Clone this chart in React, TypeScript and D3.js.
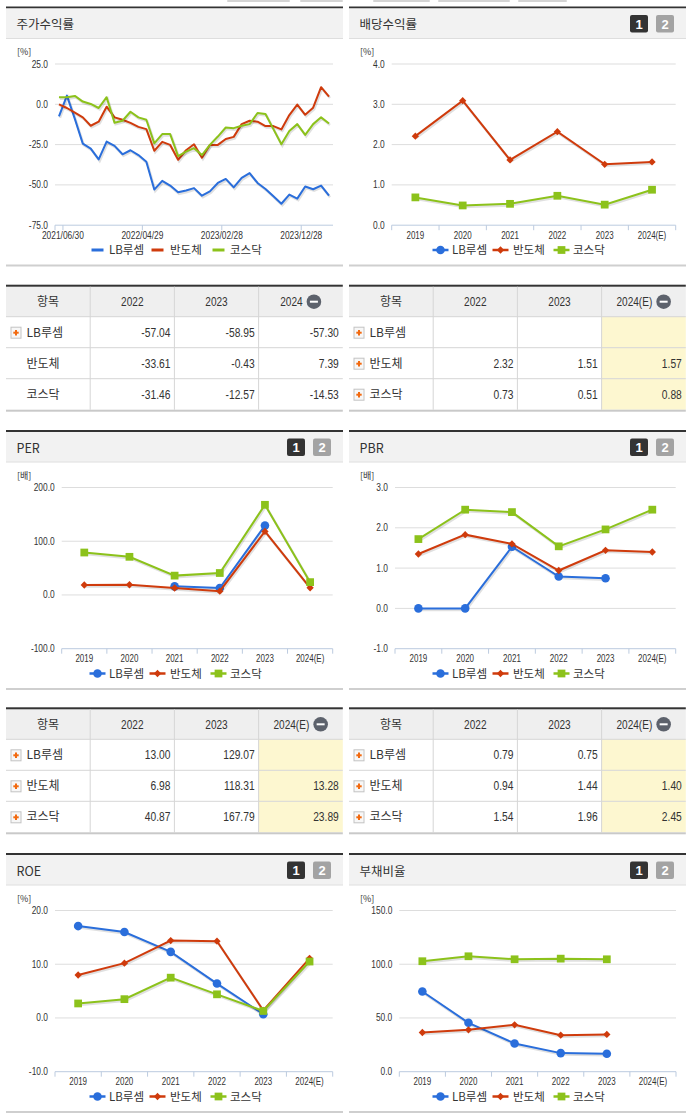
import React from 'react';
import * as d3 from 'd3';

const KFONT = '"Noto Sans CJK KR", "Noto Sans", sans-serif';
const NFONT = '"Liberation Sans", Arial, sans-serif';

const SERIES = ['LB루셈', '반도체', '코스닥'];
const COLORS = ['#2a6edb', '#cf3b0c', '#8cc21b'];
const YEARS = ['2019', '2020', '2021', '2022', '2023', '2024(E)'];

// 주가수익률 (monthly, 35 points)
const STOCK_LB = [-7.5, 5.4, -9, -24.4, -27.5, -34.2, -23.1, -25.8, -31.0, -28.5, -31.5, -35.6, -52.9, -47.5, -50.4, -54.6, -53.5, -52.0, -56.7, -54.0, -48.8, -46.3, -51.5, -45.6, -42.7, -48.8, -52.5, -57.1, -61.7, -56.0, -58.5, -51.0, -52.7, -50.4, -56.7];
const STOCK_SEMI = [0, -2.3, -5.2, -8.1, -13.3, -10.8, -1.5, -8.1, -9.6, -11.5, -14.0, -15.4, -28.8, -23.3, -25.2, -34.4, -28.5, -24.8, -33.1, -25.2, -25.2, -21.5, -20.2, -12.3, -10.2, -10.8, -13.5, -13.5, -15.6, -6.7, -0.2, -6.5, -2.1, 10.6, 4.8];
const STOCK_KOSDAQ = [4.4, 4.4, 5.2, 1.7, 0.2, -2.3, 4.4, -11.5, -10.2, -4.6, -8.1, -9.6, -24.2, -18.5, -18.5, -32.1, -29.4, -27.2, -31.5, -25.2, -20.0, -14.4, -14.8, -13.3, -12.3, -5.4, -6.0, -15.4, -24.8, -16.5, -12.3, -19.0, -12.3, -8.1, -11.9];
const STOCK_TICK_LABELS = ['2021/06/30', '2022/04/29', '2023/02/28', '2023/12/28'];
const STOCK_TICK_INDEX = [0, 10, 20, 30];
const STOCK_Y_TICKS = [-75, -50, -25, 0, 25];

// 배당수익률
const DIV_LB: (number | null)[] = [null, null, null, null, null, null];
const DIV_SEMI = [2.21, 3.09, 1.62, 2.32, 1.51, 1.57];
const DIV_KOSDAQ = [0.69, 0.49, 0.53, 0.73, 0.51, 0.88];
const DIV_TICKS = [0, 1, 2, 3, 4];

// PER
const PER_LB: (number | null)[] = [null, null, 16, 13.0, 129.07, null];
const PER_SEMI = [18.5, 19, 13, 6.98, 118.31, 13.28];
const PER_KOSDAQ = [79, 71, 36, 40.87, 167.79, 23.89];
const PER_TICKS = [-100, 0, 100, 200];

// PBR
const PBR_LB: (number | null)[] = [0, 0, 1.53, 0.79, 0.75, null];
const PBR_SEMI = [1.35, 1.83, 1.6, 0.94, 1.44, 1.4];
const PBR_KOSDAQ = [1.72, 2.45, 2.39, 1.54, 1.96, 2.45];
const PBR_TICKS = [-1, 0, 1, 2, 3];

// ROE
const ROE_LB: (number | null)[] = [17.1, 16.0, 12.3, 6.4, 0.7, null];
const ROE_SEMI = [8.0, 10.2, 14.4, 14.3, 1.4, 11.1];
const ROE_KOSDAQ = [2.7, 3.5, 7.5, 4.4, 1.3, 10.5];
const ROE_TICKS = [-10, 0, 10, 20];

// 부채비율
const DEBT_LB: (number | null)[] = [74.6, 45.5, 26.3, 17.3, 16.7, null];
const DEBT_SEMI: (number | null)[] = [36.5, 39.0, 43.6, 34.0, 34.7, null];
const DEBT_KOSDAQ: (number | null)[] = [102.8, 107.4, 104.6, 105.2, 104.6, null];
const DEBT_TICKS = [0, 50, 100, 150];

// 주가수익률 table
const RET_YEARS = ['2022', '2023', '2024'];
const RET_LB = [-57.04, -58.95, -57.3];
const RET_SEMI = [-33.61, -0.43, 7.39];
const RET_KOSDAQ = [-31.46, -12.57, -14.53];
const TABLE_YEARS = ['2022', '2023', '2024(E)'];

const PW = 337;

function fmt(v: number | null | undefined) {
  return v == null ? '' : v.toFixed(2);
}

function estWidth(s: string, size: number, sx: number) {
  let em = 0;
  for (const ch of s) {
    if (ch === '(' || ch === ')' || ch === '-') em += 0.333;
    else if (ch === '.' || ch === '/') em += 0.278;
    else if (ch === 'E') em += 0.667;
    else em += 0.556;
  }
  return em * size * sx;
}

function NText({ x, y, size, sx, anchor, children }: { x: number; y: number; size: number; sx: number; anchor?: string; children: any }) {
  return (
    <g transform={`translate(${x},${y}) scale(${sx},1)`}>
      <text x={0} y={0} fontSize={size} fill="#333" textAnchor={anchor || 'start'} fontFamily={NFONT}>{children}</text>
    </g>
  );
}

function Panel({ x, y, title, buttons }: { x: number; y: number; title: string; buttons: boolean }) {
  return (
    <g>
      <rect x={x} y={y} width={PW} height={2} fill="#333" />
      <rect x={x} y={y + 2} width={PW} height={29.8} fill="#f2f2f2" />
      <rect x={x} y={y + 31.5} width={PW} height={1} fill="#dedede" />
      <text x={x + 10.5} y={y + 22.5} fontSize={12.5} fill="#333" fontFamily={KFONT}>{title}</text>
      {buttons && (
        <g>
          <rect x={x + 281} y={y + 8.5} width={18} height={17.5} rx={2} fill="#333" />
          <text x={x + 290} y={y + 22} fontSize={13} fontWeight="bold" fill="#fff" textAnchor="middle" fontFamily={NFONT}>1</text>
          <rect x={x + 307} y={y + 8.5} width={18} height={17.5} rx={2} fill="#a3a3a3" />
          <text x={x + 316} y={y + 22} fontSize={13} fontWeight="bold" fill="#fff" textAnchor="middle" fontFamily={NFONT}>2</text>
        </g>
      )}
      <rect x={x} y={y + 258} width={PW} height={2} fill="#cfcfcf" />
    </g>
  );
}

function symbolFor(i: number) {
  if (i === 0) return d3.symbol(d3.symbolCircle, 58)();
  if (i === 1) return d3.symbol(d3.symbolDiamond2, 34)();
  return d3.symbol(d3.symbolSquare, 60)();
}

function Legend({ px, py, markers }: { px: number; py: number; markers: boolean }) {
  const cxs = [px + 91.5, px + 151.5, px + 212.5];
  const txs = [px + 103, px + 164, px + 224];
  const cy = py + 243.5;
  return (
    <g>
      {SERIES.map((s, i) => (
        <g key={s}>
          {markers ? (
            <g>
              <line x1={cxs[i] - 8} x2={cxs[i] + 8} y1={cy} y2={cy} stroke={COLORS[i]} strokeWidth={2.5} />
              <path d={symbolFor(i) || ''} transform={`translate(${cxs[i]},${cy})`} fill={COLORS[i]} />
            </g>
          ) : (
            <line x1={cxs[i] - 6} x2={cxs[i] + 6} y1={cy} y2={cy} stroke={COLORS[i]} strokeWidth={3} />
          )}
          <text x={txs[i]} y={cy + 4} fontSize={11.5} fill="#333" fontFamily={KFONT}>{s}</text>
        </g>
      ))}
    </g>
  );
}

function YAxis({ px, py, x0, x1, y, ticks, unit }: any) {
  return (
    <g>
      <text x={px + 11} y={py + 48.5} fontSize={9} fill="#333" fontFamily={KFONT}>{unit}</text>
      {ticks.map((t: number, i: number) => (
        <g key={t}>
          {i > 0 && <line x1={x0} x2={x1} y1={y(t)} y2={y(t)} stroke="#dddddd" strokeWidth={1} />}
          <NText x={x0 - 7} y={y(t) + 3.5} size={10.5} sx={0.8} anchor="end">{t.toFixed(1)}</NText>
        </g>
      ))}
    </g>
  );
}

function CatChart({ px, py, x0, x1, ticks, unit, data }: any) {
  const yb = py + 218.7;
  const yt = py + 57.5;
  const y = d3.scaleLinear().domain([ticks[0], ticks[ticks.length - 1]]).range([yb, yt]);
  const x = d3.scaleBand().domain(YEARS).range([x0, x1]);
  const cx = (d: string) => (x(d) as number) + x.bandwidth() / 2;
  const line = d3
    .line<[string, number | null]>()
    .defined((d) => d[1] != null)
    .x((d) => cx(d[0]))
    .y((d) => y(d[1] as number));
  const edges = [...YEARS.map((d) => x(d) as number), x1];
  return (
    <g>
      <YAxis px={px} py={py} x0={x0} x1={x1} y={y} ticks={ticks} unit={unit} />
      <line x1={x0} x2={x1} y1={yb} y2={yb} stroke="#bccbdf" strokeWidth={1} />
      {edges.map((e, i) => (
        <line key={i} x1={e} x2={e} y1={yb} y2={yb + 5} stroke="#bccbdf" strokeWidth={1} />
      ))}
      {YEARS.map((d) => (
        <NText key={d} x={cx(d)} y={py + 232} size={10} sx={0.8} anchor="middle">{d}</NText>
      ))}
      {data.map((vals: (number | null)[], i: number) => {
        const pts = YEARS.map((d, j) => [d, vals[j]] as [string, number | null]);
        const p = line(pts) || '';
        return (
          <g key={i}>
            <path d={p} fill="none" stroke="#000" strokeOpacity={0.12} strokeWidth={2.5} transform="translate(1,1.5)" />
            <path d={p} fill="none" stroke={COLORS[i]} strokeWidth={2} />
            {pts.filter((q) => q[1] != null).map((q) => (
              <path key={q[0]} d={symbolFor(i) || ''} transform={`translate(${cx(q[0])},${y(q[1] as number)})`} fill={COLORS[i]} />
            ))}
          </g>
        );
      })}
      <Legend px={px} py={py} markers={true} />
    </g>
  );
}

function StockChart({ px, py }: { px: number; py: number }) {
  const x0 = 55, x1 = 333;
  const yb = py + 218.7;
  const yt = py + 57.5;
  const y = d3.scaleLinear().domain([-75, 25]).range([yb, yt]);
  const x = d3.scaleLinear().domain([-0.5, STOCK_LB.length - 0.5]).range([x0, x1]);
  const line = d3.line<number>().x((_, i) => x(i)).y((d) => y(d));
  const all = [STOCK_LB, STOCK_SEMI, STOCK_KOSDAQ];
  return (
    <g>
      <YAxis px={px} py={py} x0={x0} x1={x1} y={y} ticks={STOCK_Y_TICKS} unit="[%]" />
      <line x1={x0} x2={x1} y1={yb} y2={yb} stroke="#bccbdf" strokeWidth={1} />
      <line x1={x0} x2={x0} y1={yb} y2={yb + 5} stroke="#bccbdf" strokeWidth={1} />
      {STOCK_TICK_INDEX.map((ti, i) => (
        <g key={ti}>
          <line x1={x(ti + 0.5)} x2={x(ti + 0.5)} y1={yb} y2={yb + 5} stroke="#bccbdf" strokeWidth={1} />
          <NText x={x(ti + 0.5)} y={py + 232} size={10.5} sx={0.8} anchor="middle">{STOCK_TICK_LABELS[i]}</NText>
        </g>
      ))}
      {all.map((vals, i) => {
        const p = line(vals) || '';
        return (
          <g key={i}>
            <path d={p} fill="none" stroke="#000" strokeOpacity={0.12} strokeWidth={2.5} transform="translate(1,1.5)" />
            <path d={p} fill="none" stroke={COLORS[i]} strokeWidth={2} strokeLinejoin="round" />
          </g>
        );
      })}
      <Legend px={px} py={py} markers={false} />
    </g>
  );
}

type Row = { label: string; icon: boolean; values: string[] };

function PlusIcon({ x, y }: { x: number; y: number }) {
  return (
    <g>
      <rect x={x + 0.5} y={y + 0.5} width={10} height={11} fill="#f7f7f7" stroke="#c4c4c4" strokeWidth={1} />
      <line x1={x + 2.8} x2={x + 8.2} y1={y + 6} y2={y + 6} stroke="#f26a10" strokeWidth={2} />
      <line x1={x + 5.5} x2={x + 5.5} y1={y + 3.3} y2={y + 8.7} stroke="#f26a10" strokeWidth={2} />
    </g>
  );
}

function Table({ x, y, years, rows, yellow }: { x: number; y: number; years: string[]; rows: Row[]; yellow: boolean }) {
  const cw = 84.2;
  const cols = [0, 1, 2, 3, 4].map((i) => x + i * cw);
  const w = cw * 4;
  const hTop = y + 2;
  const hBot = y + 32;
  const rh = 31;
  const lastYear = years[years.length - 1];
  const HS = 12.3, HSX = 0.82;
  const lw = estWidth(lastYear, HS, HSX);
  const gw = lw + 4 + 14.6;
  const gStart = (cols[3] + cols[4]) / 2 - gw / 2;
  const circX = gStart + lw + 4 + 7.3;
  return (
    <g>
      <rect x={x} y={hTop} width={w} height={30} fill="#efefef" />
      {yellow && rows.map((_, r) => (
        <rect key={r} x={cols[3]} y={hBot + r * rh} width={cw} height={rh} fill="#fdf7d0" />
      ))}
      <rect x={x} y={y} width={w} height={2} fill="#333" />
      {[1, 2, 3].map((i) => (
        <line key={i} x1={cols[i]} x2={cols[i]} y1={hTop} y2={hBot + rows.length * rh} stroke="#d6d6d6" strokeWidth={1} />
      ))}
      {rows.map((_, r) => (
        <line key={r} x1={x} x2={x + w} y1={hBot + r * rh} y2={hBot + r * rh} stroke="#d6d6d6" strokeWidth={1} />
      ))}
      <rect x={x} y={hBot + rows.length * rh} width={w} height={2} fill="#c9c9c9" />
      <text x={(cols[0] + cols[1]) / 2} y={hTop + 19.5} fontSize={12} fill="#333" textAnchor="middle" fontFamily={KFONT}>항목</text>
      {years.slice(0, 2).map((yr, i) => (
        <NText key={yr} x={(cols[i + 1] + cols[i + 2]) / 2} y={hTop + 19.5} size={HS} sx={HSX} anchor="middle">{yr}</NText>
      ))}
      <NText x={gStart} y={hTop + 19.5} size={HS} sx={HSX}>{lastYear}</NText>
      <circle cx={circX} cy={hTop + 15} r={7.3} fill="#5d626c" />
      <rect x={circX - 4} y={hTop + 14} width={8} height={2} fill="#fff" />
      {rows.map((row, r) => {
        const cy = hBot + r * rh + rh / 2;
        return (
          <g key={row.label}>
            {row.icon && <PlusIcon x={x + 4.5} y={cy - 5.5} />}
            <text x={x + 20.5} y={cy + 4.5} fontSize={12} fill="#333" fontFamily={KFONT}>{row.label}</text>
            {row.values.map((v, c) => (
              <NText key={c} x={cols[c + 2] - 4} y={cy + 4.5} size={12.5} sx={0.82} anchor="end">{v}</NText>
            ))}
          </g>
        );
      })}
    </g>
  );
}

function tail(vals: (number | null)[]) {
  return vals.slice(3, 6).map(fmt);
}

export default function App() {
  const L = 6, R = 349;
  const P1 = 6.5, P2 = 430, P3 = 853;
  const T1 = 284.7, T2 = 707.3;
  const retRows: Row[] = [
    { label: SERIES[0], icon: true, values: RET_LB.map(fmt) },
    { label: SERIES[1], icon: false, values: RET_SEMI.map(fmt) },
    { label: SERIES[2], icon: false, values: RET_KOSDAQ.map(fmt) },
  ];
  const divRows: Row[] = [
    { label: SERIES[0], icon: true, values: tail(DIV_LB) },
    { label: SERIES[1], icon: true, values: tail(DIV_SEMI) },
    { label: SERIES[2], icon: true, values: tail(DIV_KOSDAQ) },
  ];
  const perRows: Row[] = [
    { label: SERIES[0], icon: true, values: tail(PER_LB) },
    { label: SERIES[1], icon: true, values: tail(PER_SEMI) },
    { label: SERIES[2], icon: true, values: tail(PER_KOSDAQ) },
  ];
  const pbrRows: Row[] = [
    { label: SERIES[0], icon: true, values: tail(PBR_LB) },
    { label: SERIES[1], icon: true, values: tail(PBR_SEMI) },
    { label: SERIES[2], icon: true, values: tail(PBR_KOSDAQ) },
  ];
  const tabs = [[227, 290], [300, 343], [373, 430], [438, 510], [518, 567]];
  return (
    <svg width={691} height={1115} style={{ position: 'absolute', left: 0, top: 0, background: '#fff' }} fontFamily={KFONT}>
      <rect x={0} y={0} width={691} height={1115} fill="#fff" />
      {tabs.map((t, i) => (
        <rect key={i} x={t[0]} y={0} width={t[1] - t[0]} height={2} rx={1} fill="#d4d4d4" />
      ))}
      <Panel x={L} y={P1} title="주가수익률" buttons={false} />
      <StockChart px={L} py={P1} />
      <Panel x={R} y={P1} title="배당수익률" buttons={true} />
      <CatChart px={R} py={P1} x0={391.7} x1={675.7} ticks={DIV_TICKS} unit="[%]" data={[DIV_LB, DIV_SEMI, DIV_KOSDAQ]} />

      <Table x={L} y={T1} years={RET_YEARS} rows={retRows} yellow={false} />
      <Table x={R} y={T1} years={TABLE_YEARS} rows={divRows} yellow={true} />

      <Panel x={L} y={P2} title="PER" buttons={true} />
      <CatChart px={L} py={P2} x0={61.7} x1={332.7} ticks={PER_TICKS} unit="[배]" data={[PER_LB, PER_SEMI, PER_KOSDAQ]} />
      <Panel x={R} y={P2} title="PBR" buttons={true} />
      <CatChart px={R} py={P2} x0={395} x1={675.7} ticks={PBR_TICKS} unit="[배]" data={[PBR_LB, PBR_SEMI, PBR_KOSDAQ]} />

      <Table x={L} y={T2} years={TABLE_YEARS} rows={perRows} yellow={true} />
      <Table x={R} y={T2} years={TABLE_YEARS} rows={pbrRows} yellow={true} />

      <Panel x={L} y={P3} title="ROE" buttons={true} />
      <CatChart px={L} py={P3} x0={55} x1={332.7} ticks={ROE_TICKS} unit="[%]" data={[ROE_LB, ROE_SEMI, ROE_KOSDAQ]} />
      <Panel x={R} y={P3} title="부채비율" buttons={true} />
      <CatChart px={R} py={P3} x0={399.3} x1={676} ticks={DEBT_TICKS} unit="[%]" data={[DEBT_LB, DEBT_SEMI, DEBT_KOSDAQ]} />
    </svg>
  );
}
